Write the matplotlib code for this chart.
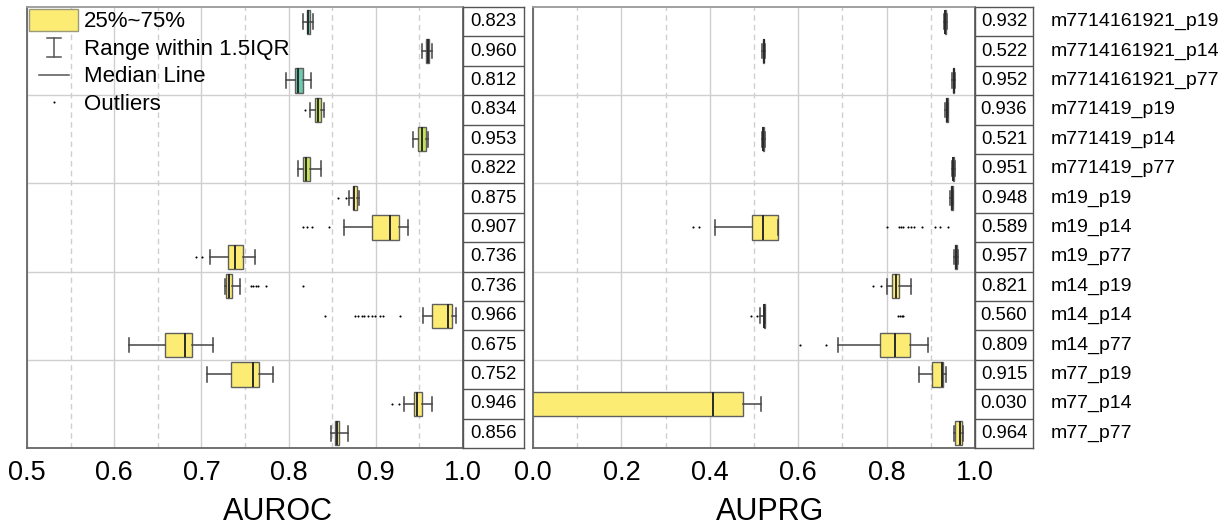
import numpy as np
import matplotlib
matplotlib.use("Agg")
import matplotlib.pyplot as plt
from matplotlib.patches import Patch
from matplotlib.lines import Line2D
from matplotlib.legend_handler import HandlerBase

plt.rcParams['font.family'] = ['Liberation Sans', 'DejaVu Sans']

labels = ["m7714161921_p19", "m7714161921_p14", "m7714161921_p77",
          "m771419_p19", "m771419_p14", "m771419_p77",
          "m19_p19", "m19_p14", "m19_p77",
          "m14_p19", "m14_p14", "m14_p77",
          "m77_p19", "m77_p14", "m77_p77"]

# AUROC summary values (table column) and box statistics
auroc_table = [0.823, 0.960, 0.812, 0.834, 0.953, 0.822, 0.875, 0.907, 0.736,
               0.736, 0.966, 0.675, 0.752, 0.946, 0.856]
auroc_q1 = [0.8207, 0.9576, 0.8073, 0.8303, 0.9488, 0.8169, 0.8735, 0.8952, 0.7301,
            0.7282, 0.9641, 0.6583, 0.7339, 0.9438, 0.8532]
auroc_med = [0.8226, 0.9600, 0.8111, 0.8340, 0.9526, 0.8200, 0.8754, 0.9163, 0.7385,
             0.7313, 0.9824, 0.6812, 0.7595, 0.9469, 0.8559]
auroc_q3 = [0.8245, 0.9614, 0.8169, 0.8372, 0.9572, 0.8245, 0.8781, 0.9266, 0.7481,
            0.7347, 0.9870, 0.6897, 0.7660, 0.9526, 0.8582]
auroc_lo = [0.8169, 0.9526, 0.7970, 0.8245, 0.9422, 0.8104, 0.8693, 0.8639, 0.7099,
            0.7270, 0.9546, 0.6170, 0.7068, 0.9323, 0.8486]
auroc_hi = [0.8284, 0.9648, 0.8253, 0.8410, 0.9602, 0.8372, 0.8811, 0.9373, 0.7615,
            0.7443, 0.9920, 0.7130, 0.7825, 0.9641, 0.8677]
auroc_out = [[], [], [], [0.819], [], [],
             [0.857, 0.8655],
             [0.816, 0.8214, 0.8271, 0.8463],
             [0.6938, 0.7003],
             [0.7565, 0.7595, 0.7626, 0.7653, 0.7741, 0.8169],
             [0.8417, 0.8761, 0.8800, 0.8838, 0.8868, 0.8914, 0.8952, 0.8990, 0.9048, 0.9086, 0.9278],
             [], [], [0.919, 0.927], []]

# AUPRG summary values (table column) and box statistics
auprg_table = [0.932, 0.522, 0.952, 0.936, 0.521, 0.951, 0.948, 0.589, 0.957,
               0.821, 0.560, 0.809, 0.915, 0.030, 0.964]
auprg_q1 = [0.931, 0.521, 0.950, 0.934, 0.520, 0.950, 0.945, 0.496, 0.955,
            0.812, 0.522, 0.785, 0.902, -0.45, 0.955]
auprg_med = [0.932, 0.522, 0.952, 0.936, 0.521, 0.951, 0.948, 0.520, 0.957,
             0.821, 0.523, 0.819, 0.925, 0.407, 0.966]
auprg_q3 = [0.934, 0.523, 0.953, 0.938, 0.522, 0.953, 0.950, 0.555, 0.960,
            0.829, 0.525, 0.853, 0.928, 0.474, 0.971]
auprg_lo = [0.929, 0.519, 0.948, 0.933, 0.518, 0.948, 0.944, 0.412, 0.953,
            0.800, 0.514, 0.691, 0.873, -1.5, 0.953]
auprg_hi = [0.937, 0.525, 0.955, 0.940, 0.524, 0.955, 0.951, 0.555, 0.961,
            0.855, 0.525, 0.894, 0.934, 0.515, 0.972]
auprg_out = [[], [], [], [], [], [], [],
             [0.361, 0.376, 0.800, 0.828, 0.833, 0.838, 0.849, 0.855, 0.862, 0.879, 0.910, 0.921, 0.940],
             [],
             [0.770, 0.787],
             [0.493, 0.506, 0.826, 0.830, 0.834, 0.838],
             [0.603, 0.662],
             [], [], []]

group_colors = ["#6dc9ae"] * 3 + ["#c6e35c"] * 3 + ["#fcec74"] * 9
LEGEND_YELLOW = "#fcec74"

W, H = 1224, 529
fig = plt.figure(figsize=(W / 100, H / 100), dpi=100)

top_px, bot_px = 7, 448
def fax(x0, x1):
    return fig.add_axes([x0 / W, (H - bot_px) / H, (x1 - x0) / W, (bot_px - top_px) / H])

n = len(labels)
SPINE = "#666666"


def draw_panel(ax, q1, med, q3, lo, hi, out, xlim, major, minor, ticklabels):
    stats = []
    for i in range(n):
        stats.append(dict(q1=q1[i], med=med[i], q3=q3[i], whislo=lo[i], whishi=hi[i],
                          fliers=out[i], label=labels[i]))
    kw = dict(positions=np.arange(n), widths=0.82, capwidths=0.5, patch_artist=True,
              showfliers=True, manage_ticks=False,
              boxprops=dict(edgecolor="#5f5f5f", linewidth=1.0),
              medianprops=dict(color="#2a2a2a", linewidth=1.4),
              whiskerprops=dict(color="#444444", linewidth=1.1),
              capprops=dict(color="#444444", linewidth=1.1),
              flierprops=dict(marker='o', markersize=1.5, markerfacecolor='black',
                              markeredgewidth=0, linestyle='none'))
    try:
        bp = ax.bxp(stats, orientation='horizontal', **kw)
    except TypeError:
        bp = ax.bxp(stats, vert=False, **kw)
    for b, c in zip(bp['boxes'], group_colors):
        b.set_facecolor(c)
    ax.set_xlim(*xlim)
    ax.set_ylim(n - 0.5, -0.5)
    ax.set_xticks(major)
    ax.set_xticklabels(ticklabels, fontsize=19.5)
    ax.set_xticks(minor, minor=True)
    ax.set_yticks([])
    ax.tick_params(axis='x', which='both', length=0, pad=9)
    ax.grid(axis='x', which='major', color="#cfcfcf", linewidth=1.0, linestyle='-')
    ax.grid(axis='x', which='minor', color="#cfcfcf", linewidth=1.0, linestyle=(0, (4, 3)))
    ax.set_axisbelow(True)
    for yb in [2.5, 5.5, 8.5, 11.5]:
        ax.axhline(yb, color="#cfcfcf", linewidth=1.0, zorder=0.5)
    for s in ax.spines.values():
        s.set_color(SPINE)
        s.set_linewidth(1.3)
    ax.spines['top'].set_color("#9a9a9a")


def draw_table(ax, values):
    ax.set_xlim(0, 1)
    ax.set_ylim(n - 0.5, -0.5)
    ax.set_xticks([])
    ax.set_yticks([])
    for i, v in enumerate(values):
        ax.text(0.5, i, f"{v:.3f}", ha='center', va='center', fontsize=13.3)
    for k in range(n - 1):
        ax.axhline(k + 0.5, color="#555555", linewidth=1.0)
    for s in ax.spines.values():
        s.set_color("#555555")
        s.set_linewidth(1.0)


# Left panel
axL = fax(27, 463)
draw_panel(axL, auroc_q1, auroc_med, auroc_q3, auroc_lo, auroc_hi, auroc_out,
           (0.5, 1.0), [0.5, 0.6, 0.7, 0.8, 0.9, 1.0], [0.55, 0.65, 0.75, 0.85, 0.95],
           ["0.5", "0.6", "0.7", "0.8", "0.9", "1.0"])
tL = fax(463, 524)
draw_table(tL, auroc_table)

# Right panel
axR = fax(533, 975)
draw_panel(axR, auprg_q1, auprg_med, auprg_q3, auprg_lo, auprg_hi, auprg_out,
           (0.0, 1.0), [0.0, 0.2, 0.4, 0.6, 0.8, 1.0], [0.1, 0.3, 0.5, 0.7, 0.9],
           ["0.0", "0.2", "0.4", "0.6", "0.8", "1.0"])
tR = fax(975, 1033)
draw_table(tR, auprg_table)
for i, lab in enumerate(labels):
    tR.text(1.0 + 18 / 58, i, lab, ha='left', va='center', fontsize=14,
            transform=tR.transData, clip_on=False)

fig.text(278 / W, 1 - 512 / H, "AUROC", ha='center', va='center', fontsize=22)
fig.text(770 / W, 1 - 512 / H, "AUPRG", ha='center', va='center', fontsize=22)


# Legend with custom handles
class IBeam:
    pass


class MedianMark:
    pass


class OutlierMark:
    pass


class HandlerIBeam(HandlerBase):
    def create_artists(self, legend, orig_handle, xdescent, ydescent, width, height, fontsize, trans):
        cx = -xdescent + width / 2
        y0 = -ydescent + height * 0.05
        y1 = -ydescent + height * 0.95
        cw = width * 0.14
        c = "#555555"
        return [Line2D([cx, cx], [y0, y1], color=c, lw=1.1, transform=trans),
                Line2D([cx - cw, cx + cw], [y0, y0], color=c, lw=1.1, transform=trans),
                Line2D([cx - cw, cx + cw], [y1, y1], color=c, lw=1.1, transform=trans)]


class HandlerMedian(HandlerBase):
    def create_artists(self, legend, orig_handle, xdescent, ydescent, width, height, fontsize, trans):
        cy = -ydescent + height / 2
        x0 = -xdescent + width * 0.19
        x1 = -xdescent + width * 0.81
        return [Line2D([x0, x1], [cy, cy], color="#555555", lw=1.1, transform=trans)]


class HandlerOutlier(HandlerBase):
    def create_artists(self, legend, orig_handle, xdescent, ydescent, width, height, fontsize, trans):
        cy = -ydescent + height / 2
        cx = -xdescent + width / 2
        return [Line2D([cx], [cy], marker='o', markersize=1.5, markeredgewidth=0,
                       color='black', linestyle='none', transform=trans)]


handles = [Patch(facecolor=LEGEND_YELLOW, edgecolor="#9a9a7a", linewidth=1.0),
           IBeam(), MedianMark(), OutlierMark()]
leg_labels = ["25%~75%", "Range within 1.5IQR", "Median Line", "Outliers"]
axL.legend(handles, leg_labels, loc='upper left', frameon=False, fontsize=16,
           borderaxespad=0.0, borderpad=0.1, handlelength=2.2, handleheight=1.1,
           handletextpad=0.27, labelspacing=0.19,
           handler_map={IBeam: HandlerIBeam(), MedianMark: HandlerMedian(),
                        OutlierMark: HandlerOutlier()})

fig.savefig("out.png", dpi=100)
